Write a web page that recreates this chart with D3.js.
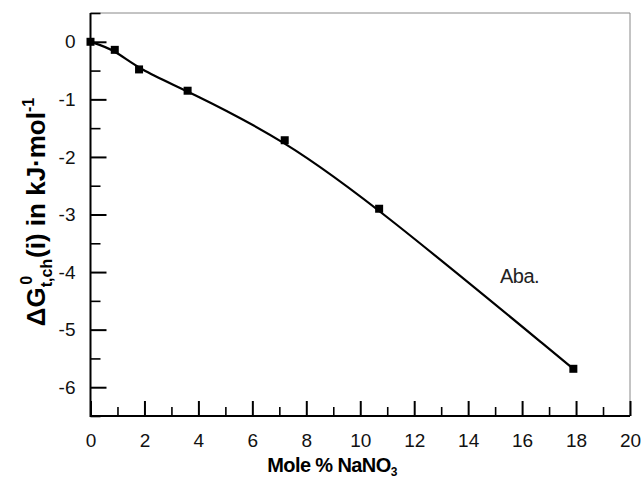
<!DOCTYPE html>
<html>
<head>
<meta charset="utf-8">
<script src="https://cdn.jsdelivr.net/npm/d3@7"></script>
<style>
  body { margin: 0; background: #fff; font-family: "Liberation Sans", Arial, sans-serif; }
  .tick text { font-family: "Liberation Sans", Arial, sans-serif; }
</style>
</head>
<body>
<svg id="chart"></svg>
<script>
// Data
const molePct = [0, 0.9, 1.8, 3.6, 7.2, 10.7, 17.9]
const deltaG = [0, -0.14, -0.48, -0.85, -1.71, -2.9, -5.68]

const xMajor = [0, 2, 4, 6, 8, 10, 12, 14, 16, 18, 20]
const xMinor = [1, 3, 5, 7, 9, 11, 13, 15, 17, 19]
const yMajor = [0, -1, -2, -3, -4, -5, -6]
const yMinor = [0.5, -0.5, -1.5, -2.5, -3.5, -4.5, -5.5, -6.5]

const WIDTH = 642
const HEIGHT = 481

// plot frame
const LEFT = 90.5
const RIGHT = 630
const TOP = 13
const BOTTOM = 416

const svg = d3.select("#chart").attr("width", WIDTH).attr("height", HEIGHT)

const x = d3.scaleLinear().domain([0, 20]).range([LEFT, RIGHT])
const y = d3.scaleLinear().domain([-6.5, 0.5]).range([BOTTOM, TOP])

// plain hyphen minus like the original
const fmt = (d) => String(d)

// thin grey top/right border
svg.append("path")
  .attr("d", `M${LEFT},${TOP}H${RIGHT}V${BOTTOM}`)
  .attr("fill", "none")
  .attr("stroke", "#888")
  .attr("stroke-width", 1)

// bottom axis: major ticks with labels, minor ticks without
const xAxisG = svg.append("g").attr("transform", `translate(0,${BOTTOM})`)
xAxisG.call(d3.axisBottom(x).tickValues(xMajor).tickSize(-15).tickPadding(18).tickFormat(fmt))
const xMinorG = svg.append("g").attr("transform", `translate(0,${BOTTOM})`)
xMinorG.call(d3.axisBottom(x).tickValues(xMinor).tickSize(-9).tickFormat(""))

// left axis
const yAxisG = svg.append("g").attr("transform", `translate(${LEFT},0)`)
yAxisG.call(d3.axisLeft(y).tickValues(yMajor).tickSize(-16).tickPadding(15).tickFormat(fmt))
const yMinorG = svg.append("g").attr("transform", `translate(${LEFT},0)`)
yMinorG.call(d3.axisLeft(y).tickValues(yMinor).tickSize(-10).tickFormat(""))

svg.selectAll(".domain").remove()
svg.selectAll(".tick line").attr("stroke", "#000").attr("stroke-width", 2)
xMinorG.selectAll(".tick line").attr("stroke-width", 1.6)
yMinorG.selectAll(".tick line").attr("stroke-width", 1.6)
svg.selectAll(".tick text").attr("font-size", 19).attr("fill", "#111")

// black left/bottom axis lines
svg.append("path")
  .attr("d", `M${LEFT},${TOP}V${BOTTOM}H${RIGHT}`)
  .attr("fill", "none")
  .attr("stroke", "#000")
  .attr("stroke-width", 2)

// smooth curve near the points
const points = molePct.map((m, i) => [m, deltaG[i]])
const line = d3.line()
  .x((d) => x(d[0]))
  .y((d) => y(d[1]))
  .curve(d3.curveBasis)

svg.append("path")
  .datum(points)
  .attr("d", line)
  .attr("fill", "none")
  .attr("stroke", "#000")
  .attr("stroke-width", 2.2)

// square markers
const S = 8
svg.selectAll(".pt")
  .data(points)
  .join("rect")
  .attr("class", "pt")
  .attr("x", (d) => x(d[0]) - S / 2)
  .attr("y", (d) => y(d[1]) - S / 2)
  .attr("width", S)
  .attr("height", S)
  .attr("fill", "#000")

// series label
svg.append("text")
  .attr("x", 500)
  .attr("y", 283)
  .attr("font-size", 20)
  .attr("fill", "#222")
  .attr("letter-spacing", -0.5)
  .text("Aba.")

// x axis title
const xt = svg.append("text")
  .attr("x", 332)
  .attr("y", 472)
  .attr("text-anchor", "middle")
  .attr("font-size", 20)
  .attr("font-weight", "bold")
  .attr("letter-spacing", -0.6)
xt.append("tspan").text("Mole % NaNO")
xt.append("tspan").attr("font-size", 12).attr("dy", 4).text("3")

// y axis title
const yt = svg.append("text")
  .attr("transform", "translate(45,212) rotate(-90)")
  .attr("text-anchor", "middle")
  .attr("font-size", 26)
  .attr("font-weight", "bold")
yt.append("tspan").text("ΔG")
yt.append("tspan").attr("font-size", 16).attr("dy", 7).text("t,ch")
yt.append("tspan").attr("font-size", 16).attr("dx", -26).attr("dy", -20).text("0")
yt.append("tspan").attr("dx", 18).attr("dy", 13).text("(i) in kJ·mol")
yt.append("tspan").attr("font-size", 16).attr("dy", -11).text("-1")
</script>
</body>
</html>
